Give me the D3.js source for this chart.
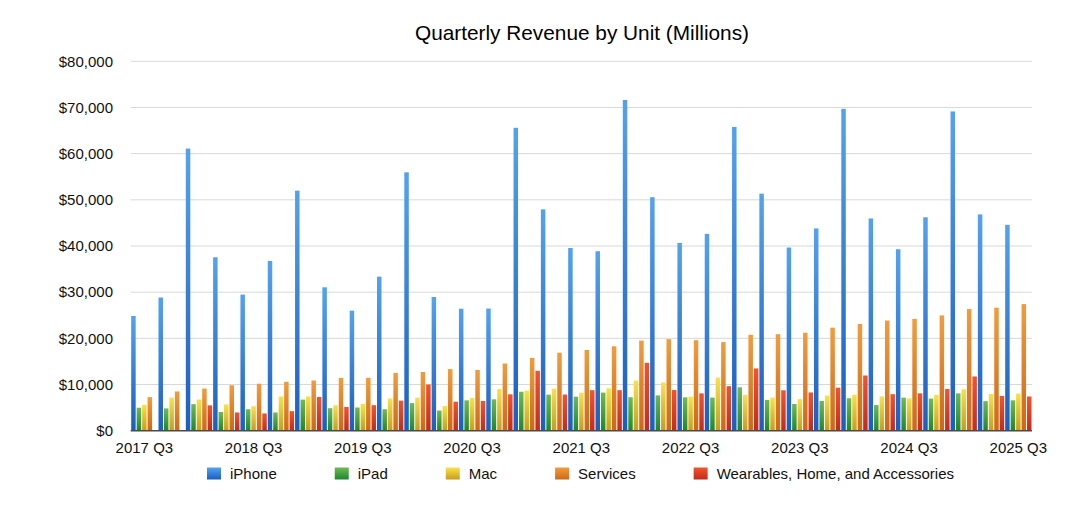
<!DOCTYPE html>
<html>
<head>
<meta charset="utf-8">
<script src="https://cdn.jsdelivr.net/npm/d3@7"></script>
<style>
  html, body { margin: 0; padding: 0; background: #fff; }
  svg { display: block; font-family: "Liberation Sans", Arial, sans-serif; }
</style>
</head>
<body>
<svg id="chart" width="1090" height="508"></svg>
<script>
const quarters = [
  "2017 Q3","2017 Q4",
  "2018 Q1","2018 Q2","2018 Q3","2018 Q4",
  "2019 Q1","2019 Q2","2019 Q3","2019 Q4",
  "2020 Q1","2020 Q2","2020 Q3","2020 Q4",
  "2021 Q1","2021 Q2","2021 Q3","2021 Q4",
  "2022 Q1","2022 Q2","2022 Q3","2022 Q4",
  "2023 Q1","2023 Q2","2023 Q3","2023 Q4",
  "2024 Q1","2024 Q2","2024 Q3","2024 Q4",
  "2025 Q1","2025 Q2","2025 Q3"
];
const seriesNames = ["iPhone", "iPad", "Mac", "Services", "Wearables, Home, and Accessories"];

const iPhone = [24846, 28846, 61104, 37559, 29470, 36755, 51982, 31051, 25986, 33362,
  55957, 28962, 26418, 26444, 65597, 47938, 39570, 38868, 71628, 50570, 40665, 42626,
  65775, 51334, 39669, 43805, 69702, 45963, 39296, 46222, 69138, 46841, 44582];
const iPad = [4969, 4831, 5750, 4050, 4650, 3950, 6729, 4872, 5023, 4656,
  5977, 4368, 6582, 6797, 8435, 7807, 7368, 8252, 7248, 7646, 7224, 7174,
  9396, 6670, 5791, 6443, 7023, 5559, 7162, 6950, 8088, 6402, 6581];
const mac = [5592, 7170, 6750, 5700, 5300, 7400, 7416, 5513, 5820, 6991,
  7160, 5351, 7079, 9032, 8675, 9102, 8235, 9178, 10852, 10435, 7382, 11508,
  7735, 7168, 6840, 7614, 7780, 7451, 7009, 7744, 8987, 7949, 8046];
const services = [7266, 8501, 9129, 9850, 10170, 10591, 10875, 11450, 11455, 12511,
  12715, 13348, 13156, 14549, 15761, 16901, 17486, 18277, 19516, 19821, 19604, 19188,
  20766, 20907, 21213, 22314, 23117, 23867, 24213, 24972, 26340, 26645, 27423];
const wearables = [null, null, 5489, 3954, 3740, 4234, 7308, 5129, 5525, 6520,
  10010, 6284, 6450, 7876, 12971, 7836, 8775, 8785, 14701, 8806, 8084, 9650,
  13482, 8757, 8284, 9322, 11953, 7913, 8097, 9042, 11747, 7522, 7404];
const xTickLabels = ["2017 Q3","2018 Q3","2019 Q3","2020 Q3","2021 Q3","2022 Q3","2023 Q3","2024 Q3","2025 Q3"];
const yTicks = [0, 10000, 20000, 30000, 40000, 50000, 60000, 70000, 80000];

const seriesValues = [iPhone, iPad, mac, services, wearables];
const gradients = [
  ["#54a2ef", "#1a5ec2"],
  ["#6fba55", "#1c872d"],
  ["#f8e24c", "#c89c1a"],
  ["#f29c3c", "#cf6716"],
  ["#f2542e", "#c22b1a"]
];

(function () {
const svg = d3.select("#chart");
const pLeft = 130.7, pRight = 1032, pTop = 61.3, pBottom = 430.7;

const defs = svg.append("defs");
gradients.forEach((g, i) => {
  const lg = defs.append("linearGradient").attr("id", "grad" + i)
    .attr("x1", 0).attr("y1", 0).attr("x2", 0).attr("y2", 1);
  lg.append("stop").attr("offset", "0%").attr("stop-color", g[0]);
  lg.append("stop").attr("offset", "100%").attr("stop-color", g[1]);
});

const x0 = d3.scaleBand().domain(quarters).range([pLeft, pRight]).padding(0);
const x1 = d3.scaleBand().domain(d3.range(seriesNames.length)).range([0, x0.bandwidth()])
  .paddingInner(0.18).paddingOuter(0.09);
const y = d3.scaleLinear().domain([0, 80000]).range([pBottom, pTop]);

// Title
svg.append("text").attr("x", 582).attr("y", 40).attr("text-anchor", "middle")
  .attr("font-size", 20.8).attr("fill", "#000").text("Quarterly Revenue by Unit (Millions)");

// Gridlines
svg.append("g").selectAll("line").data(yTicks.filter(d => d > 0)).join("line")
  .attr("x1", pLeft).attr("x2", pRight)
  .attr("y1", d => y(d)).attr("y2", d => y(d))
  .attr("stroke", "#d9d9d9").attr("stroke-width", 1);

// Y axis labels
const yAxis = d3.axisLeft(y).tickValues(yTicks).tickSize(0).tickPadding(0)
  .tickFormat(d => "$" + d3.format(",")(d));
const gy = svg.append("g").attr("transform", `translate(113,0)`).call(yAxis);
gy.select(".domain").remove();
gy.selectAll("text").attr("font-size", 15).attr("fill", "#111")
  .attr("font-family", "Liberation Sans, Arial, sans-serif");

// Bars
const groups = svg.append("g").selectAll("g").data(quarters).join("g")
  .attr("transform", d => `translate(${x0(d)},0)`);
groups.selectAll("rect")
  .data((q, qi) => seriesValues.map((arr, si) => ({ si, v: arr[qi] })).filter(d => d.v != null))
  .join("rect")
  .attr("x", d => x1(d.si))
  .attr("width", x1.bandwidth())
  .attr("y", d => y(d.v))
  .attr("height", d => y(0) - y(d.v))
  .attr("fill", d => `url(#grad${d.si})`);

// X axis baseline
svg.append("line").attr("x1", pLeft).attr("x2", pRight).attr("y1", pBottom).attr("y2", pBottom)
  .attr("stroke", "#4a4a4a").attr("stroke-width", 1.6);

// X axis labels
const xAxis = d3.axisBottom(x0).tickValues(quarters.filter(q => xTickLabels.includes(q)))
  .tickSize(0).tickPadding(0);
const gx = svg.append("g").attr("transform", `translate(0,${pBottom})`).call(xAxis);
gx.select(".domain").remove();
gx.selectAll("text").attr("font-size", 15).attr("fill", "#111")
  .attr("font-family", "Liberation Sans, Arial, sans-serif")
  .attr("dy", null).attr("y", 22.5);

// Legend
const legend = svg.append("g");
const items = legend.selectAll("g").data(seriesNames).join("g");
items.append("rect").attr("width", 14).attr("height", 12).attr("y", 467.5)
  .attr("fill", (d, i) => `url(#grad${i})`);
items.append("text").attr("x", 23).attr("y", 479).attr("font-size", 15).attr("fill", "#111").text(d => d);
const widths = [];
items.each(function () {
  const w = d3.select(this).select("text").node().getComputedTextLength();
  widths.push(23 + w);
});
const gap = 58;
const total = d3.sum(widths) + gap * (widths.length - 1);
let start = 580.5 - total / 2;
items.attr("transform", (d, i) => {
  const t = `translate(${start},0)`;
  start += widths[i] + gap;
  return t;
});
})();
</script>
</body>
</html>
